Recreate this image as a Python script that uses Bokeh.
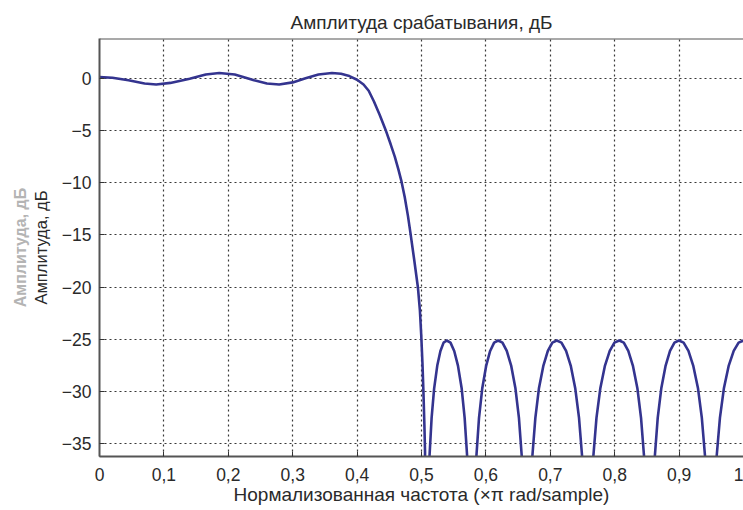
from bokeh.plotting import figure
from bokeh.models import Range1d, FixedTicker, Span, LinearAxis
from bokeh.embed import file_html
from bokeh.resources import INLINE

# ---- data ----
passband_f = [0.0, 0.02, 0.045, 0.07, 0.088, 0.11, 0.14, 0.165, 0.186, 0.21, 0.24, 0.26, 0.279,
              0.30, 0.32, 0.34, 0.361, 0.375, 0.388, 0.40, 0.41, 0.418, 0.426, 0.435, 0.444,
              0.452, 0.4585, 0.464, 0.469, 0.474, 0.479, 0.4826, 0.4885, 0.4944, 0.4975,
              0.4996, 0.5015, 0.503, 0.5045, 0.5055, 0.5065]
passband_db = [0.1, 0.05, -0.2, -0.5, -0.6, -0.45, -0.05, 0.35, 0.5, 0.35, -0.2, -0.5, -0.6,
               -0.4, 0.0, 0.35, 0.5, 0.42, 0.2, -0.15, -0.6, -1.2, -2.2, -3.5, -4.9,
               -6.3, -7.5, -8.7, -9.9, -11.4, -13.2, -14.7, -17.3, -20.0, -22.2,
               -24.6, -27.3, -30.0, -33.2, -35.8, -50.0]

stopband_f = [
    0.5098, 0.5124, 0.5157, 0.5196, 0.5245, 0.5294, 0.5343, 0.5392,
    0.5450, 0.5508, 0.5566, 0.5624, 0.5670, 0.5709, 0.5739, 0.5778,
    0.5819, 0.5852, 0.5893, 0.5943, 0.6005, 0.6066, 0.6128, 0.6190,
    0.6257, 0.6324, 0.6392, 0.6459, 0.6513, 0.6557, 0.6593, 0.6638,
    0.6684, 0.6721, 0.6768, 0.6823, 0.6893, 0.6962, 0.7032, 0.7101,
    0.7173, 0.7245, 0.7317, 0.7388, 0.7446, 0.7494, 0.7532, 0.7580,
    0.7629, 0.7668, 0.7717, 0.7776, 0.7849, 0.7923, 0.7996, 0.8070,
    0.8141, 0.8211, 0.8282, 0.8353, 0.8409, 0.8456, 0.8494, 0.8541,
    0.8586, 0.8623, 0.8668, 0.8723, 0.8791, 0.8859, 0.8928, 0.8996,
    0.9070, 0.9145, 0.9219, 0.9294, 0.9353, 0.9403, 0.9442, 0.9492,
    0.9543, 0.9583, 0.9634, 0.9695, 0.9771, 0.9848, 0.9924, 1.0000,
]
stopband_db = [
    -41.2, -36.2, -32.5, -29.7, -27.5, -26.1, -25.3, -25.1,
    -25.3, -26.1, -27.5, -29.7, -32.5, -36.2, -41.2, -50.0,
    -41.2, -36.2, -32.5, -29.7, -27.5, -26.1, -25.3, -25.1,
    -25.3, -26.1, -27.5, -29.7, -32.5, -36.2, -41.2, -50.0,
    -41.2, -36.2, -32.5, -29.7, -27.5, -26.1, -25.3, -25.1,
    -25.3, -26.1, -27.5, -29.7, -32.5, -36.2, -41.2, -50.0,
    -41.2, -36.2, -32.5, -29.7, -27.5, -26.1, -25.3, -25.1,
    -25.3, -26.1, -27.5, -29.7, -32.5, -36.2, -41.2, -50.0,
    -41.2, -36.2, -32.5, -29.7, -27.5, -26.1, -25.3, -25.1,
    -25.3, -26.1, -27.5, -29.7, -32.5, -36.2, -41.2, -50.0,
    -41.2, -36.2, -32.5, -29.7, -27.5, -26.1, -25.3, -25.1,
]

x_ticks = [0.0, 0.1, 0.2, 0.3, 0.4, 0.5, 0.6, 0.7, 0.8, 0.9, 1.0]
x_tick_labels = ["0", "0,1", "0,2", "0,3", "0,4", "0,5", "0,6", "0,7", "0,8", "0,9", "1"]
y_ticks = [0, -5, -10, -15, -20, -25, -30, -35]
y_tick_labels = ["0", "\u22125", "\u221210", "\u221215", "\u221220", "\u221225", "\u221230", "\u221235"]

title_text = "Амплитуда срабатывания, дБ"
x_label = "Нормализованная частота (\u00d7\u03c0 rad/sample)"
y_label = "Амплитуда, дБ"

FONT = "Liberation Sans"
TXT = "#2a2a2a"

p = figure(width=743, height=510, output_backend="svg", toolbar_location=None,
           x_range=Range1d(0, 1.0), y_range=Range1d(-36.2, 3.8),
           min_border_left=99, min_border_right=0, min_border_top=38, min_border_bottom=54,
           title=title_text, x_axis_label=x_label, y_axis_label=y_label)
p.outline_line_color = None
p.background_fill_color = "white"
p.border_fill_color = "white"

p.title.align = "center"
p.title.text_font = FONT
p.title.text_font_size = "19px"
p.title.text_font_style = "normal"
p.title.text_color = TXT
p.title.standoff = 11

xf = FixedTicker(ticks=x_ticks)
yf = FixedTicker(ticks=y_ticks)
p.xaxis.ticker = xf
p.yaxis.ticker = yf
p.xaxis.major_label_overrides = {t: l for t, l in zip(x_ticks, x_tick_labels)}
p.yaxis.major_label_overrides = {t: l for t, l in zip(y_ticks, y_tick_labels)}

for ax in (p.xaxis[0], p.yaxis[0]):
    ax.axis_line_color = "#555555"
    ax.axis_line_width = 2
    ax.major_tick_in = 5
    ax.major_tick_out = 0
    ax.major_tick_line_color = "#333333"
    ax.minor_tick_line_color = None
    ax.major_label_text_font = FONT
    ax.major_label_text_font_size = "17.5px"
    ax.major_label_text_color = TXT
    ax.axis_label_text_font = FONT
    ax.axis_label_text_font_style = "normal"
    ax.axis_label_text_color = TXT

p.xaxis.axis_label_text_font_size = "19px"
p.yaxis.axis_label_text_font_size = "16.5px"
p.xaxis.major_label_standoff = 11
p.xaxis.axis_label_standoff = 0
p.yaxis.major_label_standoff = 8
p.yaxis.axis_label_standoff = 9

# faint duplicate of the y label seen in the reference scan
ghost_axis = LinearAxis(ticker=FixedTicker(ticks=[]), axis_label=y_label)
ghost_axis.axis_line_color = None
ghost_axis.major_tick_line_color = None
ghost_axis.minor_tick_line_color = None
ghost_axis.axis_label_text_font = FONT
ghost_axis.axis_label_text_font_size = "16px"
ghost_axis.axis_label_text_font_style = "bold"
ghost_axis.axis_label_text_color = "#b4b4b4"
ghost_axis.axis_label_standoff = 0
p.add_layout(ghost_axis, "left")

# top frame border
p.add_layout(Span(location=3.8, dimension="width", line_color="#555555", line_width=2))

p.xgrid.ticker = xf
p.ygrid.ticker = yf
for g in (p.xgrid[0], p.ygrid[0]):
    g.grid_line_color = "#222222"
    g.grid_line_dash = "2 3"
    g.grid_line_width = 1.2
    g.grid_line_alpha = 0.9

line_color = "#34348f"
p.line(passband_f, passband_db, line_color=line_color, line_width=2.6)
p.line(stopband_f, stopband_db, line_color=line_color, line_width=2.6)

open("out.html", "w").write(file_html(p, INLINE))
